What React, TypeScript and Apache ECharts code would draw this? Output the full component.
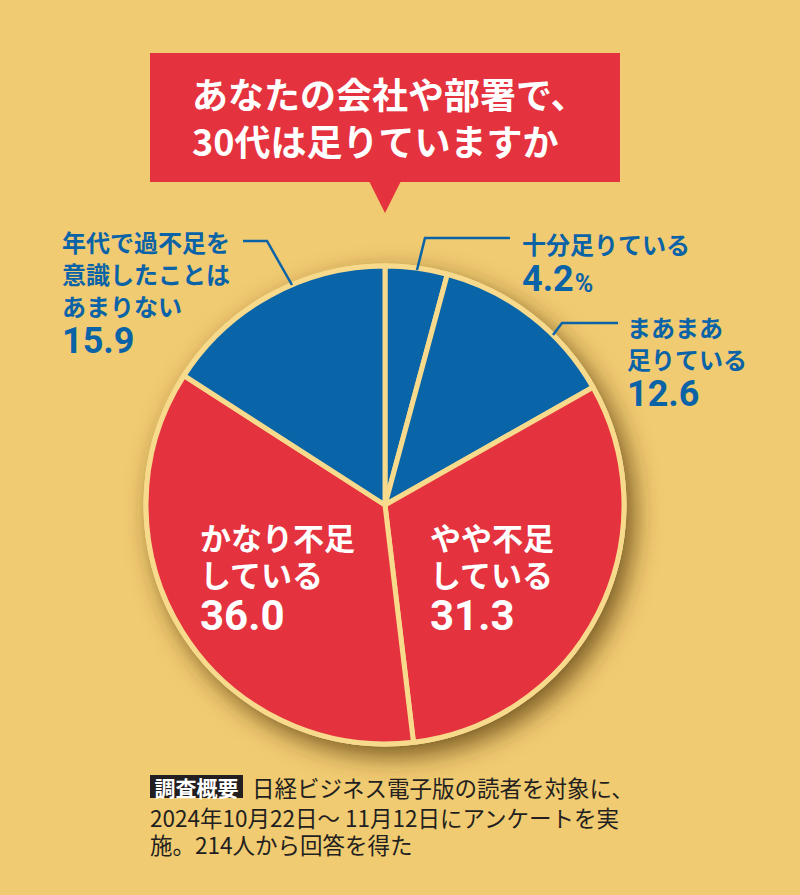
import React, { useEffect, useRef } from "react";
import * as echarts from "echarts";

const categories = [
  "十分足りている",
  "まあまあ\n足りている",
  "やや不足\nしている",
  "かなり不足\nしている",
  "年代で過不足を\n意識したことは\nあまりない",
];
const values = [4.2, 12.6, 31.3, 36.0, 15.9];
const sliceColors = ["#0A64A8", "#0A64A8", "#E4323E", "#E4323E", "#0A64A8"];
const insideLabel = [false, false, true, true, false];
const unitSuffix = ["%", "", "", "", ""];

const titleLines = ["あなたの会社や部署で、", "30代は足りていますか"];
const noteTag = "調査概要";
const noteLines = [
  "日経ビジネス電子版の読者を対象に、",
  "2024年10月22日〜 11月12日にアンケートを実",
  "施。214人から回答を得た",
];

const BG = "#F1CB71";
const BORDER = "#F7DA8C";
const BLUE = "#0B63A7";
const RED = "#E4323E";
const JP = '"Noto Sans CJK JP", "Noto Sans", sans-serif';
const NUM = 'Roboto, "Noto Sans", sans-serif';

export default function App() {
  const ref = useRef<HTMLDivElement>(null);

  useEffect(() => {
    document.body.style.margin = "0";
    if (!ref.current) return;
    const chart = echarts.init(ref.current, null, { renderer: "svg" });

    const labelPos = [
      [522, 227],
      [627, 310],
      [430, 518],
      [200, 518],
      [62, 225],
    ];

    const option: any = {
      animation: false,
      backgroundColor: BG,
      series: [
        {
          type: "pie",
          silent: true,
          z: 1,
          center: [385, 505],
          radius: 241.5,
          label: { show: false },
          labelLine: { show: false },
          data: [
            {
              value: 1,
              itemStyle: {
                color: BORDER,
                shadowBlur: 26,
                shadowColor: "rgba(70,40,0,0.7)",
                shadowOffsetX: 8,
                shadowOffsetY: 10,
              },
            },
          ],
        },
        {
          type: "pie",
          silent: true,
          z: 2,
          center: [385, 505],
          radius: 239,
          startAngle: 90,
          clockwise: true,
          itemStyle: { borderColor: BORDER, borderWidth: 5 },
          labelLine: { show: false },
          label: {
            show: true,
            position: "inside",
            formatter: (p: any) => {
              const inside = insideLabel[p.dataIndex];
              const ns = inside ? "ni" : "no";
              const vs = inside ? "vi" : "vo";
              const lines = String(p.name)
                .split("\n")
                .map((l: string) => `{${ns}|${l}}`)
                .join("\n");
              const unit = unitSuffix[p.dataIndex]
                ? `{pct|${unitSuffix[p.dataIndex]}}`
                : "";
              return `${lines}\n{${vs}|${Number(p.value).toFixed(1)}}${unit}`;
            },
            rich: {
              no: {
                fontFamily: JP,
                fontSize: 24,
                fontWeight: "bold",
                lineHeight: 32,
                color: BLUE,
              },
              vo: {
                fontFamily: NUM,
                fontSize: 36,
                fontWeight: "bold",
                lineHeight: 40,
                color: BLUE,
              },
              pct: {
                fontFamily: NUM,
                fontSize: 25,
                fontWeight: "bold",
                lineHeight: 40,
                color: BLUE,
                verticalAlign: "bottom",
                padding: [0, 0, 3, 1],
              },
              ni: {
                fontFamily: JP,
                fontSize: 31,
                fontWeight: "bold",
                lineHeight: 37,
                color: "#ffffff",
              },
              vi: {
                fontFamily: NUM,
                fontSize: 42,
                fontWeight: "bold",
                lineHeight: 46,
                color: "#ffffff",
              },
            },
          },
          labelLayout: (params: any) => {
            const pos = labelPos[params.dataIndex];
            return { x: pos[0], y: pos[1], align: "left", verticalAlign: "top" };
          },
          data: categories.map((name, i) => ({
            name,
            value: values[i],
            itemStyle: { color: sliceColors[i] },
          })),
        },
      ],
      graphic: [
        {
          type: "rect",
          shape: { x: 150, y: 53, width: 470, height: 129 },
          style: { fill: RED },
          z: 10,
        },
        {
          type: "polygon",
          shape: { points: [[369, 181], [401, 181], [385, 213]] },
          style: { fill: RED },
          z: 10,
        },
        {
          type: "text",
          x: 192,
          y: 69,
          z: 11,
          style: {
            text: titleLines.join("\n"),
            fill: "#ffffff",
            fontFamily: JP,
            fontSize: 36,
            fontWeight: "bold",
            lineHeight: 47,
          },
        },
        {
          type: "polyline",
          z: 10,
          shape: { points: [[417, 270], [425, 238], [510, 238]] },
          style: { stroke: BLUE, lineWidth: 2.5, fill: null },
        },
        {
          type: "polyline",
          z: 10,
          shape: { points: [[553, 335], [562, 323], [618, 323]] },
          style: { stroke: BLUE, lineWidth: 2.5, fill: null },
        },
        {
          type: "polyline",
          z: 10,
          shape: { points: [[292, 285], [267, 241], [243, 241]] },
          style: { stroke: BLUE, lineWidth: 2.5, fill: null },
        },
        {
          type: "rect",
          z: 10,
          shape: { x: 150, y: 775, width: 93, height: 23 },
          style: { fill: "#231F20" },
        },
        {
          type: "text",
          x: 196.5,
          y: 786.5,
          z: 11,
          style: {
            text: noteTag,
            fill: "#ffffff",
            fontFamily: JP,
            fontSize: 21,
            fontWeight: "bold",
            align: "center",
            verticalAlign: "middle",
          },
        },
        {
          type: "text",
          x: 252,
          y: 786.5,
          z: 11,
          style: {
            text: noteLines[0],
            fill: "#231F20",
            fontFamily: JP,
            fontSize: 22.5,
            verticalAlign: "middle",
          },
        },
        {
          type: "text",
          x: 150,
          y: 803,
          z: 11,
          style: {
            text: noteLines.slice(1).join("\n"),
            fill: "#231F20",
            fontFamily: JP,
            fontSize: 22.5,
            lineHeight: 27,
            verticalAlign: "top",
          },
        },
      ],
    };

    chart.setOption(option);
    return () => chart.dispose();
  }, []);

  return (
    <div
      ref={ref}
      style={{ width: 800, height: 895, background: BG, margin: 0 }}
    />
  );
}
